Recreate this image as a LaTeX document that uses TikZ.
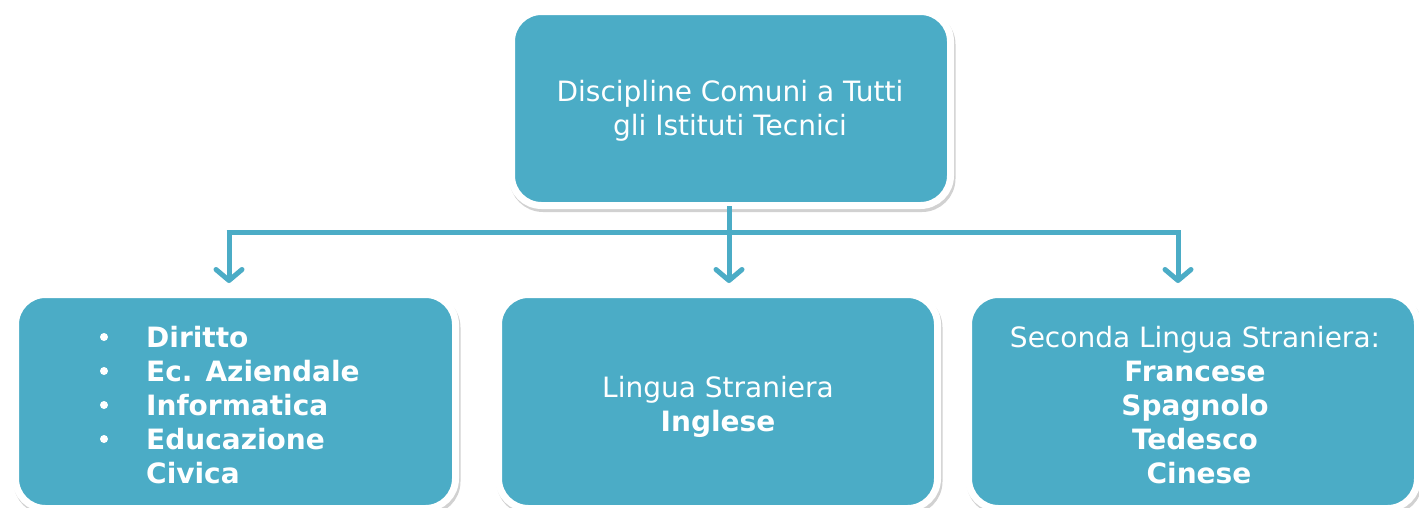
\documentclass[tikz,border=0pt]{standalone}
\usepackage{fontspec}
\setmainfont{DejaVu Sans}
\usetikzlibrary{arrows.meta,shadows}
\definecolor{boxblue}{HTML}{4BACC6}
\tikzset{
  box/.style={rectangle, rounded corners=30pt, fill=boxblue, draw=white, line width=7pt,
    drop shadow={draw=black, fill=black, line width=7pt, opacity=0.18, shadow xshift=1.5pt, shadow yshift=-3pt},
    text=white, align=center, inner sep=0pt},
  txt/.style={text=white, inner sep=0pt, font=\fontsize{28}{34}\selectfont},
  conn/.style={draw=boxblue, line width=5pt},
  arr/.style={conn, -{Straight Barb[length=11pt,width=26pt,round]}},
}
\begin{document}
\begin{tikzpicture}[x=1pt,y=-1pt]
\useasboundingbox (0,0) rectangle (1419,507);
\fill[white] (0,0) rectangle (1419,507);
\node[box, minimum width=439pt, minimum height=194pt] (top) at (731,108.5) {};
\node[box, minimum width=440pt, minimum height=214pt] (left) at (235.5,401.5) {};
\node[box, minimum width=439pt, minimum height=214pt] (mid) at (718,401.5) {};
\node[box, minimum width=449pt, minimum height=214pt] (right) at (1193,401.5) {};
% top content
\node[txt, anchor=base, align=center] (ttxt) at (730,135)
  {Discipline Comuni a Tutti\\gli Istituti Tecnici};
% left content
\node[txt, anchor=base west, align=left, font=\fontsize{28}{34}\selectfont\bfseries] (ltxt) at (146,483)
  {Diritto\\Ec. Aziendale\\Informatica\\Educazione\\Civica};
\foreach \yy [count=\i] in {347,381,415,449} {
  \node[circle, fill=white, inner sep=0pt, minimum size=8pt] (b\i) at (104,\yy-10) {};
}
% middle content
\node[txt, anchor=base, align=center] (mtxt) at (718,431)
  {Lingua Straniera\\\textbf{Inglese}};
% right content
\node[txt, anchor=base, align=center] (rtxt) at (1195,483)
  {Seconda Lingua Straniera:\\\textbf{Francese}\\\textbf{Spagnolo}\\\textbf{Tedesco}\\\hspace{8pt}\textbf{Cinese}};
% connectors
\coordinate (hl) at (229,232);
\coordinate (hr) at (1178,232);
\coordinate (hm) at (729,232);
\draw[conn] (top.south -| hm) ++(0,-3) -- (hm);
\draw[conn, line cap=butt] ([xshift=-2.5pt]hl) -- ([xshift=2.5pt]hr);
\draw[arr] (hl) -- (hl |- 0,283);
\draw[arr] (hm) -- (hm |- 0,283);
\draw[arr] (hr) -- (hr |- 0,283);
\end{tikzpicture}
\end{document}
